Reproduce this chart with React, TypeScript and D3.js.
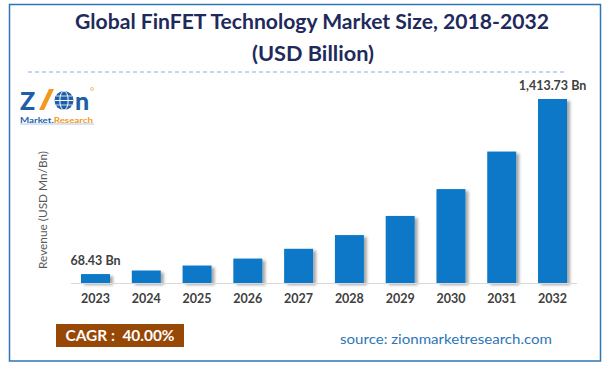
import React from 'react';
import * as d3 from 'd3';

const years = ['2023', '2024', '2025', '2026', '2027', '2028', '2029', '2030', '2031', '2032'];
const revenue = [68.43, 95.8, 134.1, 187.7, 262.8, 368.0, 515.2, 721.3, 1009.8, 1413.73];
const valueLabels = ['68.43 Bn', '', '', '', '', '', '', '', '', '1,413.73 Bn'];
const titleLines = ['Global FinFET Technology Market Size, 2018-2032', '(USD Billion)'];
const yTitle = 'Revenue (USD Mn/Bn)';
const cagrText = 'CAGR :  40.00%';
const sourceText = 'source: zionmarketresearch.com';

const W = 607;
const H = 368;
const FONT = 'Lato, "Open Sans", "Liberation Sans", sans-serif';

const App: React.FC = () => {
  // echelles
  const x = d3.scaleBand<string>()
    .domain(years)
    .range([70, 578])
    .paddingInner(0.43)
    .paddingOuter(0.217);

  const y = d3.scaleLinear()
    .domain([0, d3.max(revenue) as number])
    .range([283, 99]);

  return (
    <svg width={W} height={H} style={{ position: 'absolute', left: 0, top: 0, background: '#fff' }}>
      <defs>
        <filter id="barShadow" x="-20%" y="-10%" width="160%" height="130%">
          <feDropShadow dx="3" dy="2" stdDeviation="1.4" floodColor="#000" floodOpacity="0.35" />
        </filter>
      </defs>

      <rect x={0} y={0} width={W} height={H} fill="#fff" />
      <rect x={9.5} y={4.5} width={591} height={356.5} fill="none" stroke="#2E75B6" strokeWidth={1.5} />

      {/* titre */}
      <text x={312} y={29} textAnchor="middle" fontFamily={FONT} fontWeight="bold" fontSize={21}
        fill="#1F2A5C" textLength={474} lengthAdjust="spacingAndGlyphs">{titleLines[0]}</text>
      <text x={313} y={61} textAnchor="middle" fontFamily={FONT} fontWeight="bold" fontSize={21}
        fill="#1F2A5C" textLength={122} lengthAdjust="spacingAndGlyphs">{titleLines[1]}</text>

      <line x1={28} x2={565} y1={72} y2={72} stroke="#8FAADC" strokeWidth={1} strokeDasharray="4 3" />

      {/* logo */}
      <g>
        <text x={20} y={110} fontFamily={FONT} fontWeight="900" fontSize={25} fill="#1F5FAA">Z</text>
        <polygon points="39,110 44,110 54,89 49,89" fill="#F39A1E" />
        <circle cx={64} cy={100.5} r={9.5} fill="#1F5FAA" />
        <ellipse cx={64} cy={100.5} rx={4.2} ry={9.5} fill="none" stroke="#fff" strokeWidth={1} />
        <line x1={54.5} x2={73.5} y1={100.5} y2={100.5} stroke="#fff" strokeWidth={1} />
        <line x1={56} x2={72} y1={96} y2={96} stroke="#fff" strokeWidth={0.8} />
        <line x1={56} x2={72} y1={105} y2={105} stroke="#fff" strokeWidth={0.8} />
        <text x={75} y={110} fontFamily={FONT} fontWeight="900" fontSize={25} fill="#1F5FAA">n</text>
        <circle cx={92} cy={89} r={1.5} fill="none" stroke="#F39A1E" strokeWidth={0.6} />
        <text x={20} y={122.5} fontFamily={FONT} fontWeight="bold" fontSize={8} textLength={73} lengthAdjust="spacingAndGlyphs">
          <tspan fill="#1F5FAA">Market.</tspan>
          <tspan fill="#F39A1E">Research</tspan>
        </text>
        <line x1={20} x2={94} y1={124} y2={124} stroke="#1F5FAA" strokeWidth={0.6} opacity={0.6} />
      </g>

      {/* titre axe y */}
      <text transform="translate(47,210) rotate(-90)" textAnchor="middle" fontFamily={FONT} fontSize={11.5}
        fill="#595959" textLength={118} lengthAdjust="spacingAndGlyphs">{yTitle}</text>

      {/* barres */}
      <g filter="url(#barShadow)">
        {years.map((yr, i) => (
          <rect key={yr} x={x(yr)} y={y(revenue[i])} width={x.bandwidth()} height={y(0) - y(revenue[i])} fill="#0777C8" />
        ))}
      </g>

      <line x1={71} x2={577} y1={y(0) + 0.5} y2={y(0) + 0.5} stroke="#D9D9D9" strokeWidth={1} />

      {/* etiquettes */}
      {years.map((yr, i) => valueLabels[i] ? (
        <text key={'v' + yr} x={(x(yr) as number) + x.bandwidth() / 2} y={y(revenue[i]) - 9} textAnchor="middle"
          fontFamily={FONT} fontWeight="bold" fontSize={12.5} fill="#404040">{valueLabels[i]}</text>
      ) : null)}

      {years.map((yr) => (
        <text key={'x' + yr} x={(x(yr) as number) + x.bandwidth() / 2} y={303} textAnchor="middle"
          fontFamily={FONT} fontWeight="bold" fontSize={12.5} fill="#404040">{yr}</text>
      ))}

      {/* CAGR */}
      <rect x={56} y={324} width={128} height={23} fill="#974706" />
      <text x={120} y={341} textAnchor="middle" fontFamily={FONT} fontWeight="bold" fontSize={15}
        fill="#fff" textLength={109} lengthAdjust="spacingAndGlyphs" xmlSpace="preserve">{cagrText}</text>

      <text x={340} y={344} fontFamily={FONT} fontSize={14} fill="#2E75B6"
        textLength={212} lengthAdjust="spacingAndGlyphs">{sourceText}</text>
    </svg>
  );
};

export default App;
